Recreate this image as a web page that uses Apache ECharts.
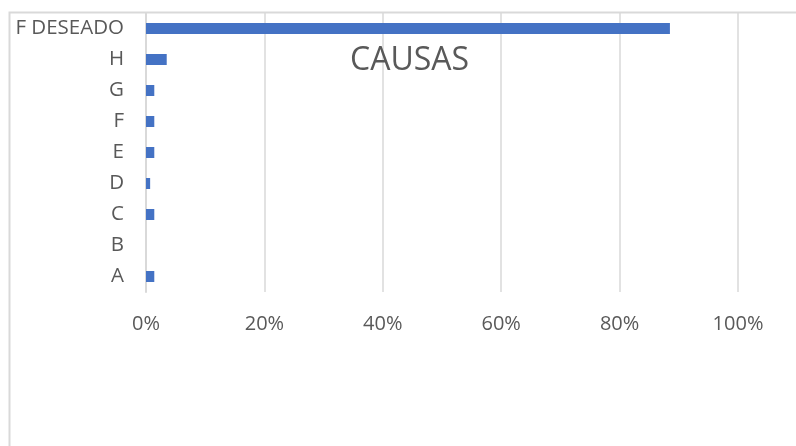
<!DOCTYPE html>
<html>
<head>
<meta charset="utf-8">
<script src="https://cdn.jsdelivr.net/npm/echarts@6/dist/echarts.min.js"></script>
<style>
html,body{margin:0;padding:0;background:#fff;}
#chart{width:796px;height:446px;}
</style>
</head>
<body>
<div id="chart"></div>
<script>
const categories = ['A', 'B', 'C', 'D', 'E', 'F', 'G', 'H', 'F DESEADO'];
const values = [0.014, 0, 0.014, 0.007, 0.014, 0.014, 0.014, 0.035, 0.885];
const xTicks = [0, 0.2, 0.4, 0.6, 0.8, 1.0];
const titleText = 'CAUSAS';

const chart = echarts.init(document.getElementById('chart'));
const textColor = '#595959';
const fontFam = '"Open Sans", sans-serif';
chart.setOption({
  animation: false,
  backgroundColor: '#ffffff',
  graphic: [{
    type: 'rect',
    shape: { x: 9.5, y: 12.5, width: 900, height: 600 },
    style: { fill: 'none', stroke: '#d9d9d9', lineWidth: 2 },
    z: -1
  }],
  title: {
    text: titleText,
    left: 345, top: 40,
    textStyle: { color: textColor, fontSize: 32, fontWeight: 'normal', fontFamily: fontFam }
  },
  grid: { left: 146, right: 58, top: 13, bottom: 154, containLabel: false },
  xAxis: {
    type: 'value',
    min: xTicks[0], max: xTicks[xTicks.length - 1], interval: 0.2,
    axisLine: { show: false },
    axisTick: { show: false },
    splitLine: { show: true, lineStyle: { color: '#d9d9d9', width: 1.5 } },
    axisLabel: {
      margin: 22,
      color: textColor, fontSize: 20, fontFamily: fontFam,
      formatter: v => Math.round(v * 100) + '%'
    }
  },
  yAxis: {
    type: 'category',
    data: categories,
    axisLine: { show: true, lineStyle: { color: '#d9d9d9', width: 2 } },
    axisTick: { show: false },
    axisLabel: { margin: 22, color: textColor, fontSize: 20.5, fontFamily: fontFam }
  },
  series: [{
    type: 'bar',
    data: values,
    barWidth: 11,
    itemStyle: { color: '#4472C4' }
  }]
});
</script>
</body>
</html>
